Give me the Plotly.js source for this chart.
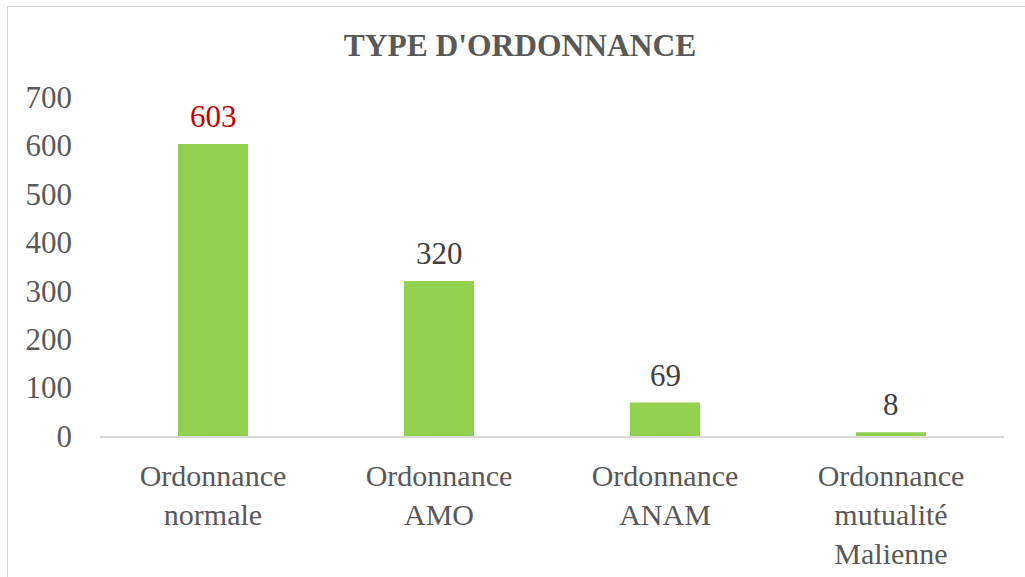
<!DOCTYPE html>
<html>
<head>
<meta charset="utf-8">
<script src="https://cdn.plot.ly/plotly-3.0.1.min.js"></script>
<style>
  html, body { margin: 0; padding: 0; background: #ffffff; overflow: hidden; }
  #chart { width: 1025px; height: 577px; position: absolute; left: 0; top: 0; }
  #frame { position: absolute; left: 7px; top: 6px; width: 1030px; height: 600px;
           border-top: 1.5px solid #D9D9D9; border-left: 1.5px solid #D9D9D9; pointer-events: none; }
</style>
</head>
<body>
<div id="chart"></div>
<div id="frame"></div>
<script>
const categories = [
  "Ordonnance<br>normale",
  "Ordonnance<br>AMO",
  "Ordonnance<br>ANAM",
  "Ordonnance<br>mutualité<br>Malienne"
];
const values = [603, 320, 69, 8];
const labelColors = ["#C00000", "#404040", "#404040", "#404040"];
const yTicks = [0, 100, 200, 300, 400, 500, 600, 700];

const FONT = "Liberation Serif";

const trace = {
  type: "bar",
  x: categories,
  y: values,
  marker: { color: "#92D050", line: { width: 0 } },
  hoverinfo: "none"
};

const annotations = categories.map((c, i) => ({
  x: c,
  y: values[i],
  xref: "x",
  yref: "y",
  text: String(values[i]),
  showarrow: false,
  yanchor: "bottom",
  yshift: 8,
  font: { family: FONT, size: 31, color: labelColors[i] }
}));

const layout = {
  width: 1025,
  height: 577,
  paper_bgcolor: "#ffffff",
  plot_bgcolor: "#ffffff",
  margin: { l: 100, r: 21, t: 97, b: 141 },
  showlegend: false,
  bargap: 0.69,
  font: { family: FONT },
  title: {
    text: "<b>TYPE D'ORDONNANCE</b>",
    font: { family: FONT, size: 31.5, color: "#595959" },
    xref: "container",
    yref: "container",
    x: 520 / 1025,
    xanchor: "center",
    y: 1 - 45 / 577,
    yanchor: "middle"
  },
  xaxis: {
    type: "category",
    showgrid: false,
    zeroline: false,
    showline: true,
    linecolor: "#D9D9D9",
    linewidth: 1.5,
    ticks: "",
    ticklabelstandoff: 12,
    tickfont: { family: FONT, size: 30, color: "#595959" },
    fixedrange: true
  },
  yaxis: {
    range: [0, 700],
    tickvals: yTicks,
    ticktext: yTicks.map(String),
    showgrid: false,
    zeroline: false,
    showline: false,
    ticks: "",
    ticklabelstandoff: 27,
    tickfont: { family: FONT, size: 31, color: "#595959" },
    fixedrange: true
  },
  annotations: annotations
};

Plotly.newPlot("chart", [trace], layout, { displayModeBar: false, staticPlot: true });
</script>
</body>
</html>
